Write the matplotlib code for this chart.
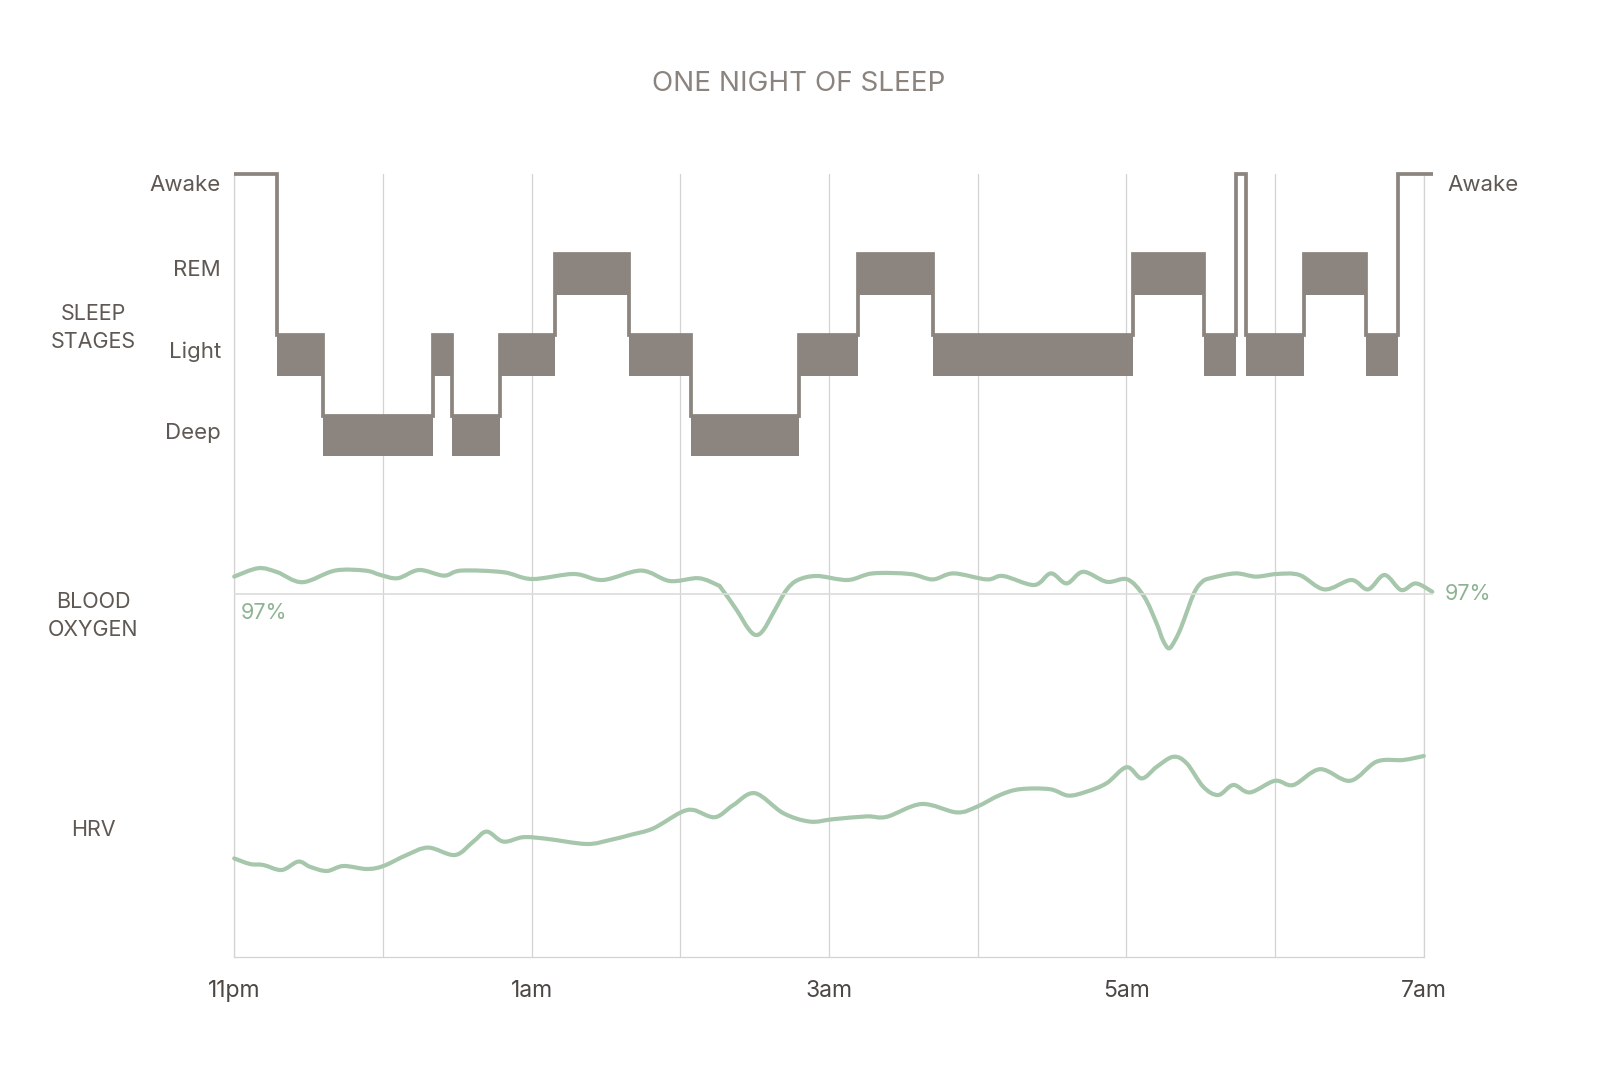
import numpy as np
import matplotlib
matplotlib.use('Agg')
import matplotlib.pyplot as plt
from matplotlib.path import Path
from matplotlib.patches import PathPatch

plt.rcParams['font.family'] = ['Inter', 'DejaVu Sans']

# hours after 11pm
hour_ticks = [0, 2, 4, 6, 8]
hour_labels = ['11pm', '1am', '3am', '5am', '7am']

# sleep stages: start of each stage, plus the end of the night
stage_times = [0, 0.288, 0.596, 1.336, 1.466, 1.787, 2.155, 2.658, 3.075, 3.796,
               4.198, 4.699, 6.046, 6.524, 6.740, 6.807, 7.196, 7.610, 7.826, 8.062]
stage_names = ['Awake', 'Light', 'Deep', 'Light', 'Deep', 'Light', 'REM', 'Light',
               'Deep', 'Light', 'REM', 'Light', 'REM', 'Light', 'Awake', 'Light',
               'REM', 'Light', 'Awake']
stage_levels = {'Deep': 0, 'Light': 1, 'REM': 2, 'Awake': 3}

# blood oxygen (%)
spo2_t = [0, 0.162, 0.29, 0.458, 0.677, 0.882, 0.985, 1.10, 1.243, 1.41, 1.526, 1.809,
          2.002, 2.285, 2.478, 2.736, 2.929, 3.122, 3.25, 3.276, 3.379, 3.456, 3.508,
          3.559, 3.636, 3.714, 3.791, 3.92, 4.126, 4.293, 4.544, 4.697, 4.837, 5.06,
          5.171, 5.38, 5.492, 5.598, 5.709, 5.868, 6.007, 6.119, 6.203, 6.245, 6.286,
          6.328, 6.37, 6.454, 6.51, 6.565, 6.732, 6.871, 7.011, 7.164, 7.332, 7.513,
          7.625, 7.736, 7.848, 7.946, 8.057]
spo2_v = [97.87, 98.29, 98.09, 97.59, 98.17, 98.17, 97.95, 97.79, 98.2, 97.92, 98.17, 98.09,
          97.75, 98.0, 97.7, 98.17, 97.65, 97.79, 97.45, 97.28, 96.2, 95.28, 94.95,
          95.2, 96.2, 97.2, 97.7, 97.9, 97.7, 98.03, 98.0, 97.73, 98.03, 97.73,
          97.9, 97.45, 98.03, 97.53, 98.11, 97.61, 97.73, 96.87, 95.53, 94.7, 94.28,
          94.7, 95.37, 97.03, 97.61, 97.79, 98.03, 97.87, 98.0, 97.95, 97.23, 97.7,
          97.23, 97.95, 97.2, 97.53, 97.11]

# heart rate variability (ms)
hrv_t = [0, 0.106, 0.196, 0.319, 0.431, 0.51, 0.622, 0.734, 0.891, 1.003, 1.16, 1.305,
         1.485, 1.608, 1.698, 1.81, 1.944, 2.101, 2.37, 2.527, 2.662, 2.818, 2.998, 3.088,
         3.233, 3.357, 3.502, 3.693, 3.872, 4.029, 4.254, 4.388, 4.623, 4.859, 4.993,
         5.15, 5.284, 5.486, 5.609, 5.733, 5.867, 6.002, 6.103, 6.204, 6.315, 6.405,
         6.517, 6.618, 6.719, 6.831, 6.999, 7.122, 7.302, 7.504, 7.683, 7.862, 8.0]
hrv_v = [32.9, 31.5, 31.25, 30.0, 32.1, 30.8, 29.75, 31.0, 30.25, 31.0, 33.75, 35.6,
         33.75, 37.1, 39.6, 37.1, 38.2, 37.8, 36.5, 37.5, 38.75, 40.4, 44.3, 45.0,
         43.2, 46.25, 49.2, 44.2, 42.1, 42.7, 43.4, 43.3, 46.5, 44.4, 45.8,
         48.75, 50.2, 50.2, 48.6, 49.6, 51.7, 55.7, 52.9, 55.8, 58.3, 56.7,
         50.8, 48.75, 51.25, 49.4, 52.3, 51.25, 55.2, 52.3, 57.1, 57.5, 58.5]

STAGE_C = '#8c857f'
GREEN = '#a6c7ab'
GREEN_TXT = '#8db393'
LABEL_C = '#5f5853'
GRID_C = '#d3d3d3'

W, H = 1600, 1073
X0, X1 = 234.2, 1423.8


def pos(top, bottom):
    return [X0 / W, 1 - bottom / H, (X1 - X0) / W, (bottom - top) / H]


def smooth_path(xs, ys):
    # catmull-rom curve through the points, drawn as bezier segments
    p = np.column_stack([xs, ys]).astype(float)
    verts = [p[0]]
    codes = [Path.MOVETO]
    n = len(p)
    for i in range(n - 1):
        p0 = p[max(i - 1, 0)]
        p1 = p[i]
        p2 = p[i + 1]
        p3 = p[min(i + 2, n - 1)]
        verts += [p1 + (p2 - p0) / 6, p2 - (p3 - p1) / 6, p2]
        codes += [Path.CURVE4] * 3
    return Path(verts, codes)


fig = plt.figure(figsize=(16, 10.73), dpi=100)

# background frame with hour grid
bg = fig.add_axes(pos(174, 957.3))
bg.set_xlim(0, 8)
bg.set_ylim(0, 1)
bg.set_xticks(hour_ticks)
bg.set_xticklabels(hour_labels)
bg.set_xticks([1, 3, 5, 7], minor=True)
bg.set_yticks([])
bg.grid(axis='x', which='both', color=GRID_C, lw=0.9)
bg.tick_params(axis='x', which='both', length=0, pad=16, labelsize=16.5, labelcolor='#4d4743')
bg.spines['top'].set_visible(False)
for s in ['left', 'bottom', 'right']:
    bg.spines[s].set_color(GRID_C)
    bg.spines[s].set_linewidth(0.9)
bg.set_zorder(0)

# sleep stages
ax_s = fig.add_axes(pos(149.7, 480.2))
ax_s.set_xlim(0, 8)
ax_s.set_ylim(-0.8, 3.3)
ax_s.axis('off')
tops = [stage_levels[s] for s in stage_names]
tops = tops + [tops[-1]]
band = [0 if s == 'Awake' else 0.505 for s in stage_names]
band = band + [band[-1]]
bottoms = [t - b for t, b in zip(tops, band)]
ax_s.fill_between(stage_times, bottoms, tops, step='post', color=STAGE_C, lw=0, clip_on=False)
ax_s.step(stage_times, tops, where='post', color=STAGE_C, lw=2.7, clip_on=False,
          solid_joinstyle='miter', solid_capstyle='butt')

# blood oxygen
ax_o = fig.add_axes(pos(540, 680))
ax_o.set_xlim(0, 8)
ax_o.set_ylim(92.7, 99.7)
ax_o.axis('off')
ax_o.hlines(97, 0, 8.06, color='#dcdcdc', lw=1.2, clip_on=False)
ax_o.add_patch(PathPatch(smooth_path(spo2_t, spo2_v), fill=False, edgecolor=GREEN,
                         lw=3.0, capstyle='round', joinstyle='round', clip_on=False))

# HRV
ax_h = fig.add_axes(pos(740, 900))
ax_h.set_xlim(0, 8)
ax_h.set_ylim(22.5, 62.5)
ax_h.axis('off')
ax_h.add_patch(PathPatch(smooth_path(hrv_t, hrv_v), fill=False, edgecolor=GREEN,
                         lw=3.0, capstyle='round', joinstyle='round', clip_on=False))


def ftext(x, y, s, **kw):
    fig.text(x / W, 1 - y / H, s, **kw)


ftext(799, 84, 'ONE NIGHT OF SLEEP', ha='center', va='center', fontsize=20, color='#8b847e')

for name, y in [('Awake', 185), ('REM', 270), ('Light', 352), ('Deep', 433)]:
    ftext(221, y, name, ha='right', va='center', fontsize=16, color=LABEL_C)
ftext(1447, 185, 'Awake', ha='left', va='center', fontsize=16, color=LABEL_C)

ftext(93, 328, 'SLEEP\nSTAGES', ha='center', va='center', fontsize=15.5, color=LABEL_C,
      linespacing=1.45)
ftext(93, 616, 'BLOOD\nOXYGEN', ha='center', va='center', fontsize=15.5, color=LABEL_C,
      linespacing=1.45)
ftext(93, 830, 'HRV', ha='center', va='center', fontsize=15.5, color=LABEL_C)

ftext(241, 613, '97%', ha='left', va='center', fontsize=15.5, color=GREEN_TXT)
ftext(1445, 594, '97%', ha='left', va='center', fontsize=15.5, color=GREEN_TXT)

fig.savefig('out.png', dpi=100, facecolor='white')
